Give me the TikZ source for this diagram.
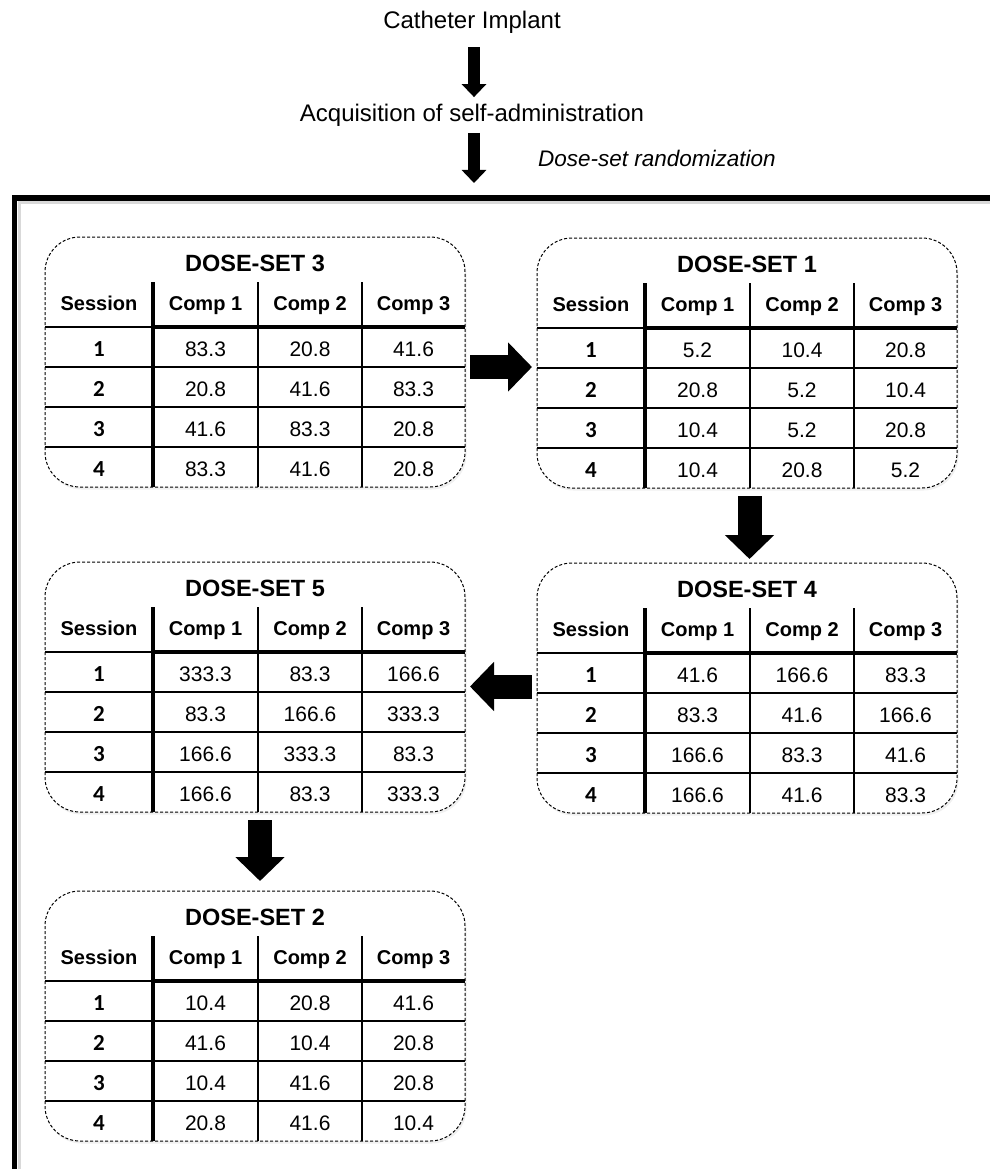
\documentclass[tikz,border=0pt]{standalone}
\usepackage{fontspec}
\setmainfont{Liberation Sans}
\newfontfamily\carl{Carlito}
\usetikzlibrary{arrows.meta,shadows}
\tikzset{
 dbox/.style={draw, fill=white, dash pattern=on 3pt off 2pt, line width=1pt, rounded corners=35pt,
   minimum width=420pt, minimum height=250pt, inner sep=0pt, outer sep=0pt, anchor=north west,
   drop shadow={opacity=0.12, shadow xshift=1.5pt, shadow yshift=-2.5pt}},
 thinl/.style={line width=2pt},
 thickl/.style={line width=4.5pt},
 coll/.style={line width=1.6pt},
 ttl/.style={font=\fontsize{23.5}{28}\selectfont\bfseries, anchor=base, inner sep=0pt},
 hdr/.style={font=\fontsize{20}{24}\selectfont\bfseries, anchor=base, inner sep=0pt},
 num/.style={font=\carl\bfseries\fontsize{23}{27}\selectfont, anchor=base, inner sep=0pt},
 val/.style={font=\fontsize{21}{25}\selectfont, anchor=base, inner sep=0pt},
 blk/.style={line width=24pt, -{Triangle[length=24pt,width=48pt]}},
 sblk/.style={line width=12pt, -{Triangle[length=13pt,width=24pt]}},
 lbl/.style={font=\fontsize{24}{28}\selectfont, anchor=base, inner sep=0pt},
}
\newcommand\dosebox[5]{%
 \begin{scope}[shift={(#2,-#3)}]
  \node[dbox] (#1) at (0,0) {};
  \node[ttl] (#1t) at (210,-34) {DOSE-SET #4};
  \draw[thinl] (0,-90) -- (108,-90);
  \foreach \yy in {130,170,210} \draw[thinl] (0,-\yy) -- (420,-\yy);
  \draw[thickl] (108,-90) -- (420,-90);
  \foreach \xx in {213,317} \draw[coll] (\xx,-45) -- (\xx,-250);
  \draw[thickl] (108,-45) -- (108,-250);
  \node[hdr] (#1hs) at (54,-73.5) {Session};
  \node[hdr] (#1ha) at (160.5,-73.5) {Comp 1};
  \node[hdr] (#1hb) at (265,-73.5) {Comp 2};
  \node[hdr] (#1hc) at (368.5,-73.5) {Comp 3};
  \foreach \a/\b/\c [count=\i] in {#5} {
    \node[num] (#1n\i) at (54,{-79.5-40*\i}) {\i};
    \node[val] (#1a\i) at (160.5,{-79.5-40*\i}) {\a};
    \node[val] (#1b\i) at (265,{-79.5-40*\i}) {\b};
    \node[val] (#1c\i) at (368.5,{-79.5-40*\i}) {\c};
  }
 \end{scope}}
\begin{document}
\begin{tikzpicture}[x=1pt,y=1pt]
\useasboundingbox (0,0) rectangle (990,-1169);
% outer frame
\draw[black!15, line width=3pt] (19,-1169) -- (19,-202.5) -- (990,-202.5);
\draw[line width=5pt] (14,-1169) -- (14,-198) -- (990,-198);
% header texts
\node[lbl] (cat) at (472,-28.3) {Catheter Implant};
\node[lbl] (acq) at (472,-121.7) {Acquisition of self-administration};
\node[lbl, font=\fontsize{22.5}{27}\selectfont\itshape] (rnd) at (657,-167) {Dose-set randomization};
\coordinate (tip) at (474,-183);
\draw[sblk, shorten <=13.7pt, shorten >=7pt] (cat.south -| 474,0) -- (acq.north -| 474,0);
\draw[sblk, shorten <=6pt] (acq.south -| 474,0) -- (tip);
% tables
\dosebox{ds3}{45}{237}{3}{83.3/20.8/41.6, 20.8/41.6/83.3, 41.6/83.3/20.8, 83.3/41.6/20.8}
\dosebox{ds1}{537}{238}{1}{5.2/10.4/20.8, 20.8/5.2/10.4, 10.4/5.2/20.8, 10.4/20.8/5.2}
\dosebox{ds5}{45}{562}{5}{333.3/83.3/166.6, 83.3/166.6/333.3, 166.6/333.3/83.3, 166.6/83.3/333.3}
\dosebox{ds4}{537}{563}{4}{41.6/166.6/83.3, 83.3/41.6/166.6, 166.6/83.3/41.6, 166.6/41.6/83.3}
\dosebox{ds2}{45}{891}{2}{10.4/20.8/41.6, 41.6/10.4/20.8, 10.4/41.6/20.8, 20.8/41.6/10.4}
% block arrows
\draw[blk, shorten <=5pt, shorten >=5pt] ([yshift=-5pt]ds3.east) -- ([yshift=-5pt]ds3.east -| ds1.west);
\draw[blk, shorten <=8pt, shorten >=4pt] ([xshift=2.5pt]ds1.south) -- ([xshift=2.5pt]ds1.south |- ds4.north);
\draw[blk, shorten <=5pt, shorten >=5pt] ([yshift=1.5pt]ds4.west) -- ([yshift=1.5pt]ds4.west -| ds5.east);
\draw[blk, shorten <=8pt, shorten >=10pt] ([xshift=5pt]ds5.south) -- ([xshift=5pt]ds5.south |- ds2.north);
\end{tikzpicture}
\end{document}
